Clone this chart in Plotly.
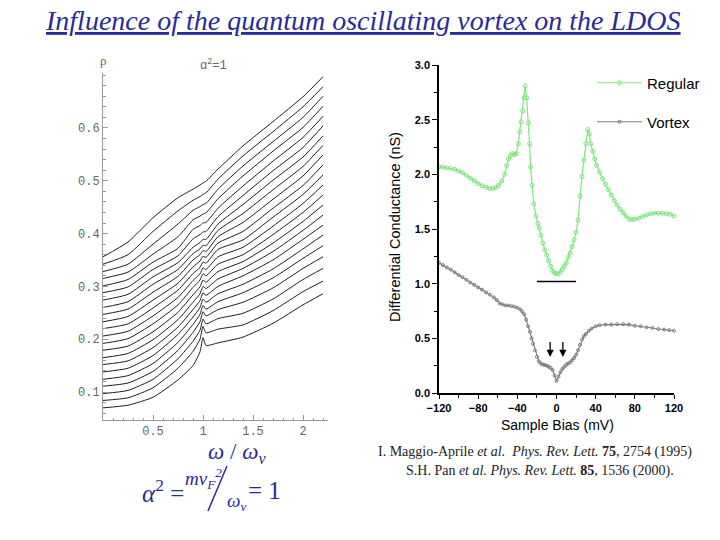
import plotly.graph_objects as go

# ---------------- left panel: rho(omega/omega_v) family, alpha^2 = 1 ----------------
omega_grid = [0.0, 0.25, 0.5, 0.75, 0.9, 0.97, 1.0, 1.03, 1.15, 1.4, 1.7, 2.0, 2.2]
rho_family = [
    [.070, .075, .090, .123, .150, .176, .203, .188, .193, .204, .230, .265, .286],
    [.084, .089, .108, .145, .177, .200, .224, .212, .219, .227, .254, .290, .310],
    [.097, .103, .124, .163, .196, .217, .238, .229, .239, .249, .276, .313, .334],
    [.111, .117, .139, .179, .213, .233, .252, .244, .256, .270, .297, .334, .356],
    [.124, .131, .154, .194, .228, .247, .264, .257, .271, .288, .316, .353, .377],
    [.138, .145, .169, .209, .242, .260, .276, .270, .286, .304, .333, .371, .397],
    [.152, .159, .184, .223, .256, .273, .288, .283, .300, .320, .350, .389, .416],
    [.165, .173, .199, .237, .270, .286, .300, .296, .314, .334, .366, .406, .435],
    [.179, .187, .214, .251, .284, .299, .312, .308, .328, .347, .382, .423, .454],
    [.192, .201, .229, .265, .298, .312, .324, .320, .342, .360, .398, .440, .473],
    [.206, .215, .244, .279, .311, .324, .335, .332, .356, .374, .414, .457, .492],
    [.220, .229, .259, .293, .324, .336, .346, .344, .370, .388, .431, .474, .511],
    [.233, .243, .274, .306, .337, .348, .357, .355, .382, .404, .448, .491, .530],
    [.247, .257, .289, .319, .350, .360, .368, .366, .394, .421, .465, .509, .549],
    [.260, .271, .304, .332, .362, .371, .378, .377, .406, .438, .483, .527, .567],
    [.274, .285, .318, .345, .374, .383, .389, .389, .418, .455, .501, .545, .585],
    [.288, .299, .332, .358, .390, .398, .403, .404, .432, .472, .519, .563, .604],
    [.301, .313, .346, .372, .408, .415, .420, .421, .448, .490, .537, .582, .622],
    [.315, .327, .361, .394, .426, .433, .437, .439, .466, .509, .556, .601, .641],
    [.328, .342, .380, .418, .444, .451, .455, .457, .484, .528, .574, .620, .660],
    [.342, .360, .404, .443, .463, .470, .474, .477, .503, .547, .593, .640, .678],
    [.356, .384, .430, .468, .484, .492, .496, .499, .522, .566, .612, .659, .697],
]
left_yticks = [0.1, 0.2, 0.3, 0.4, 0.5, 0.6]
left_yticklabels = ["0.1", "0.2", "0.3", "0.4", "0.5", "0.6"]
left_xticks = [0.5, 1.0, 1.5, 2.0]
left_xticklabels = ["0.5", "1", "1.5", "2"]

# ---------------- right panel: STM conductance spectra ----------------
regular_bias = [-120, -116, -112, -108, -104, -100, -96, -92, -88, -84, -80, -76, -72, -68, -65,
                -62, -59, -56, -53, -51, -49, -47, -45, -43, -41, -39, -37.5, -36, -34.5, -33,
                -32, -30.5, -28.6, -27.5, -26.5, -25, -23.2, -21, -19, -17.7, -16, -14, -12,
                -10, -8, -6, -4, -2, 0, 2, 4, 6, 8, 10, 12, 14, 16, 18, 20, 22, 24, 26, 28,
                30, 32, 33.5, 35, 37, 39, 41, 44, 47, 50, 53, 56, 59, 62, 65, 68, 71, 74, 77,
                80, 84, 88, 92, 96, 100, 104, 108, 112, 116, 120]
regular_g = [2.07, 2.065, 2.06, 2.055, 2.045, 2.03, 2.015, 1.99, 1.965, 1.94, 1.915, 1.895,
             1.88, 1.87, 1.87, 1.88, 1.90, 1.94, 2.00, 2.08, 2.14, 2.17, 2.19, 2.18, 2.19,
             2.28, 2.39, 2.48, 2.58, 2.70, 2.81, 2.70, 2.47, 2.28, 2.07, 1.90, 1.73, 1.62,
             1.55, 1.51, 1.44, 1.37, 1.31, 1.26, 1.21, 1.16, 1.12, 1.10, 1.09, 1.09, 1.11,
             1.13, 1.16, 1.19, 1.24, 1.28, 1.34, 1.40, 1.47, 1.58, 1.80, 1.98, 2.13, 2.28,
             2.41, 2.37, 2.28, 2.21, 2.14, 2.08, 2.02, 1.96, 1.91, 1.86, 1.81, 1.76, 1.72,
             1.68, 1.65, 1.62, 1.59, 1.585, 1.59, 1.60, 1.615, 1.63, 1.64, 1.645, 1.645,
             1.645, 1.64, 1.635, 1.62]
vortex_bias = [-120, -116, -112, -108, -104, -100, -96, -92, -88, -84, -80, -76, -72, -68, -64,
               -61, -58, -55, -52, -49, -46, -43, -40, -37, -35, -33, -31, -29, -27, -25.5,
               -24, -22, -20, -18, -16, -14, -12, -10, -8, -6, -4, -2, 0, 2, 4, 6, 8, 10, 12,
               14, 16, 18, 20, 22, 24, 26, 28, 30, 33, 36, 40, 44, 50, 56, 62, 68, 74, 80, 86,
               92, 98, 104, 110, 115, 120]
vortex_g = [1.19, 1.17, 1.15, 1.13, 1.105, 1.08, 1.06, 1.035, 1.01, 0.99, 0.965, 0.945, 0.92,
            0.90, 0.875, 0.85, 0.82, 0.81, 0.80, 0.80, 0.795, 0.79, 0.78, 0.765, 0.745, 0.72,
            0.67, 0.61, 0.56, 0.50, 0.45, 0.39, 0.33, 0.29, 0.27, 0.26, 0.255, 0.25, 0.24,
            0.23, 0.21, 0.16, 0.11, 0.15, 0.19, 0.22, 0.24, 0.26, 0.27, 0.28, 0.30, 0.32,
            0.35, 0.39, 0.44, 0.49, 0.52, 0.54, 0.57, 0.59, 0.61, 0.62, 0.625, 0.625, 0.63,
            0.63, 0.625, 0.615, 0.61, 0.60, 0.595, 0.585, 0.58, 0.575, 0.57]
gap_bar_bias = [-20, 20]
gap_bar_g = [1.02, 1.02]
arrow_bias = [-6.5, 6.5]
arrow_tip_g = [0.33, 0.33]
arrow_tail_g = [0.48, 0.48]

W, H = 720, 540

fig = go.Figure()

for row in rho_family:
    fig.add_trace(go.Scatter(x=omega_grid, y=row, mode="lines",
                             line=dict(color="#1e1e1e", width=1, shape="spline", smoothing=0.5),
                             xaxis="x", yaxis="y", showlegend=False, hoverinfo="skip"))

green = "#7fe57f"
fig.add_trace(go.Scatter(x=regular_bias, y=regular_g, mode="lines+markers", name="Regular",
                         line=dict(color=green, width=1.2),
                         marker=dict(symbol="circle-open", size=4, color=green, line=dict(width=1)),
                         xaxis="x2", yaxis="y2", legend="legend", cliponaxis=False))
fig.add_trace(go.Scatter(x=vortex_bias, y=vortex_g, mode="lines+markers", name="Vortex",
                         line=dict(color="#7a7a7a", width=1.1),
                         marker=dict(symbol="circle-open", size=3, color="#7a7a7a", line=dict(width=1)),
                         xaxis="x2", yaxis="y2", legend="legend2", cliponaxis=False))
fig.add_trace(go.Scatter(x=gap_bar_bias, y=gap_bar_g, mode="lines",
                         line=dict(color="black", width=1.3),
                         xaxis="x2", yaxis="y2", showlegend=False, hoverinfo="skip"))

annotations = []
for xb, yt, yl in zip(arrow_bias, arrow_tip_g, arrow_tail_g):
    annotations.append(dict(x=xb, y=yt, ax=xb, ay=yl, xref="x2", yref="y2", axref="x2", ayref="y2",
                            showarrow=True, arrowhead=2, arrowsize=1.1, arrowwidth=1.3,
                            arrowcolor="black", text=""))

mono = "Liberation Mono, Courier New, monospace"
sans = "Liberation Sans, Arial, sans-serif"
serif = "Liberation Serif, Times New Roman, serif"
blue = "#2a2a9c"


def label(xp, yp, text, font, angle=0):
    annotations.append(dict(x=xp / W, y=1 - yp / H, xref="paper", yref="paper", showarrow=False,
                            xanchor="center", yanchor="middle", textangle=angle,
                            text=text, font=font))


label(363, 21, "<i><u>Influence of the quantum oscillating vortex on the LDOS</u></i>",
      dict(family=serif, size=28, color=blue))
label(103, 61, "ρ", dict(family=serif, size=13, color="#666"))
label(213, 65, "α<sup>2</sup>=1", dict(family=mono, size=12, color="#666"))
label(237, 453, "<i>ω</i> / <i>ω<sub>v</sub></i>", dict(family=serif, size=23, color=blue))
label(163, 491, "<i>α</i><sup>2</sup> =", dict(family=serif, size=25, color=blue))
label(203, 478, "<i>mv<sub>F</sub><sup>2</sup></i>", dict(family=serif, size=19, color=blue))
label(236, 502, "<i>ω<sub>v</sub></i>", dict(family=serif, size=19, color=blue))
label(264, 490, "= 1", dict(family=serif, size=25, color=blue))
label(395, 227, "Differential Conductance (nS)", dict(family=sans, size=14.5, color="black"), -90)
label(557, 425, "Sample Bias (mV)", dict(family=sans, size=14, color="black"))
label(535, 452, "I. Maggio-Aprile <i>et al.</i>  <i>Phys. Rev. Lett.</i> <b>75</b>, 2754 (1995)",
      dict(family=serif, size=14, color="#222"))
label(540, 471, "S.H. Pan <i>et al.</i> <i>Phys. Rev. Lett.</i> <b>85</b>, 1536 (2000).",
      dict(family=serif, size=14, color="#222"))

shapes = [dict(type="line", xref="paper", yref="paper",
               x0=208 / W, y0=1 - 511 / H, x1=227 / W, y1=1 - 466 / H,
               line=dict(color=blue, width=1.5))]

fig.update_layout(
    width=W, height=H, autosize=False,
    margin=dict(l=0, r=0, t=0, b=0, autoexpand=False),
    paper_bgcolor="white", plot_bgcolor="white",
    annotations=annotations, shapes=shapes,
    xaxis=dict(domain=[103 / W, 328 / W], range=[0, 2.25], anchor="y", automargin=False,
               showgrid=False, zeroline=False, showline=True, linecolor="#9a9a9a", linewidth=1,
               ticks="inside", ticklen=5, tickcolor="#9a9a9a", tickvals=left_xticks,
               ticktext=left_xticklabels, tickfont=dict(family=mono, size=12, color="#666"),
               minor=dict(dtick=0.1, ticklen=2.5, ticks="inside", tickcolor="#9a9a9a")),
    yaxis=dict(domain=[1 - 420 / H, 1 - 73 / H], range=[0.047, 0.704], anchor="x", automargin=False,
               showgrid=False, zeroline=False, showline=True, linecolor="#9a9a9a", linewidth=1,
               ticks="inside", ticklen=5, tickcolor="#9a9a9a", tickvals=left_yticks,
               ticktext=left_yticklabels, tickfont=dict(family=mono, size=12, color="#666"),
               minor=dict(dtick=0.02, tick0=0, ticklen=2.5, ticks="inside", tickcolor="#9a9a9a")),
    xaxis2=dict(domain=[439 / W, 674 / W], range=[-120, 120], anchor="y2", automargin=False,
                showgrid=False, zeroline=False, showline=True, linecolor="black", linewidth=1.5,
                ticks="outside", ticklen=4, tickwidth=1.3, tickcolor="black", dtick=40, tick0=0,
                tickfont=dict(family=sans, size=11, color="black", weight="bold"),
                minor=dict(dtick=20, ticklen=3, ticks="outside", tickcolor="black")),
    yaxis2=dict(domain=[1 - 393 / H, 1 - 65 / H], range=[0, 3], anchor="x2", automargin=False,
                showgrid=False, zeroline=False, showline=True, linecolor="black", linewidth=1.5,
                ticks="outside", ticklen=5, tickwidth=1.3, tickcolor="black", dtick=0.5, tick0=0,
                tickformat=".1f",
                tickfont=dict(family=sans, size=11, color="black", weight="bold"),
                minor=dict(dtick=0.25, ticklen=3, ticks="outside", tickcolor="black")),
    legend=dict(x=592 / W, y=1 - 83 / H, xanchor="left", yanchor="middle",
                font=dict(family=sans, size=15, color="black"), bgcolor="rgba(0,0,0,0)",
                itemwidth=45),
    legend2=dict(x=592 / W, y=1 - 122 / H, xanchor="left", yanchor="middle",
                 font=dict(family=sans, size=15, color="black"), bgcolor="rgba(0,0,0,0)",
                 itemwidth=45),
)

fig.write_html("out.html")
